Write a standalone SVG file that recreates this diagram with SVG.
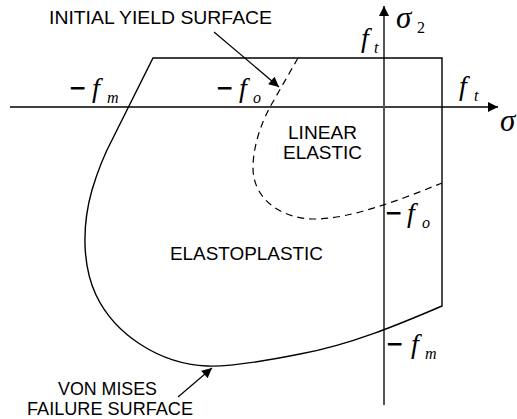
<svg xmlns="http://www.w3.org/2000/svg" width="517" height="419" viewBox="0 0 517 419">
<defs>
<style>
.lbl{font-family:"Liberation Sans",Arial,sans-serif;font-size:17.5px;fill:#000}
.m{font-family:"Liberation Serif","Times New Roman",serif;font-style:italic;font-size:28px;fill:#000}
.s{font-size:16px}
.sig{font-size:31px}
.minus{font-family:"Liberation Serif","Times New Roman",serif;font-size:27px;fill:#000;stroke:#000;stroke-width:1}
.ln{fill:none;stroke:#000;stroke-width:1.4}
.dash{fill:none;stroke:#000;stroke-width:1.2;stroke-dasharray:7 5}
</style>
<marker id="ah" viewBox="0 0 10 10" refX="10" refY="5" markerWidth="14" markerHeight="10" markerUnits="userSpaceOnUse" orient="auto">
<path d="M0,0 L10,5 L0,10 z" fill="#000"/>
</marker>
<marker id="axh" viewBox="0 0 10 10" refX="10" refY="5" markerWidth="15" markerHeight="10" markerUnits="userSpaceOnUse" orient="auto">
<path d="M0,0 L10,5 L0,10 z" fill="#000"/>
</marker>
</defs>
<rect width="517" height="419" fill="#fff"/>

<g id="axes">
<line x1="10" y1="107" x2="498" y2="107" stroke="#000" stroke-width="1.6" marker-end="url(#axh)"/>
<line x1="384" y1="405" x2="384" y2="6" stroke="#555" stroke-width="2" marker-end="url(#axh)"/>
</g>

<g id="failure-surface">
<path class="ln" d="M153,58 L442,58 L442,306 C400,324 350,345 300,354 C260,362 230,367 207,366 C160,364 115,335 96,295 C82,265 82,225 92,190 C98,170 104,155 112,140 Z"/>
</g>

<g id="yield-surface">
<path class="dash" d="M298,58 L270,107 C262,122 253,145 253,168 C253,198 280,219 315,219 C350,219 400,200 442,183"/>
</g>

<g id="connectors">
<line x1="214" y1="32" x2="279" y2="87" stroke="#000" stroke-width="1.2" marker-end="url(#ah)"/>
<line x1="178" y1="397" x2="212" y2="368" stroke="#000" stroke-width="1.2" marker-end="url(#ah)"/>
</g>

<g id="labels">
<text class="lbl" x="49" y="24" textLength="223" lengthAdjust="spacingAndGlyphs">INITIAL YIELD SURFACE</text>
<text class="lbl" x="288" y="139" textLength="69" lengthAdjust="spacingAndGlyphs">LINEAR</text>
<text class="lbl" x="283" y="159" textLength="79" lengthAdjust="spacingAndGlyphs">ELASTIC</text>
<text class="lbl" x="170" y="260" textLength="153" lengthAdjust="spacingAndGlyphs">ELASTOPLASTIC</text>
<text class="lbl" x="58" y="395" textLength="99" lengthAdjust="spacingAndGlyphs">VON MISES</text>
<text class="lbl" x="27" y="415" textLength="166" lengthAdjust="spacingAndGlyphs">FAILURE SURFACE</text>
</g>

<g id="math-labels">
<text class="minus" x="70" y="97">−</text>
<text class="m" x="92" y="97">f</text><text class="m s" x="107" y="103">m</text>

<text class="minus" x="217" y="97">−</text>
<text class="m" x="239" y="97">f</text><text class="m s" x="253" y="103">o</text>

<text class="m" x="361" y="47">f</text><text class="m s" x="374" y="53">t</text>

<text class="m sig" x="396" y="28">σ</text><text class="s" x="417" y="33" font-family="Liberation Serif,serif">2</text>

<text class="m" x="459" y="95">f</text><text class="m s" x="474" y="101">t</text>

<text class="m sig" x="500" y="131">σ</text>

<text class="minus" x="386" y="222">−</text>
<text class="m" x="407" y="222">f</text><text class="m s" x="422" y="228">o</text>

<text class="minus" x="387" y="353">−</text>
<text class="m" x="411" y="353">f</text><text class="m s" x="425" y="359">m</text>
</g>
</svg>
